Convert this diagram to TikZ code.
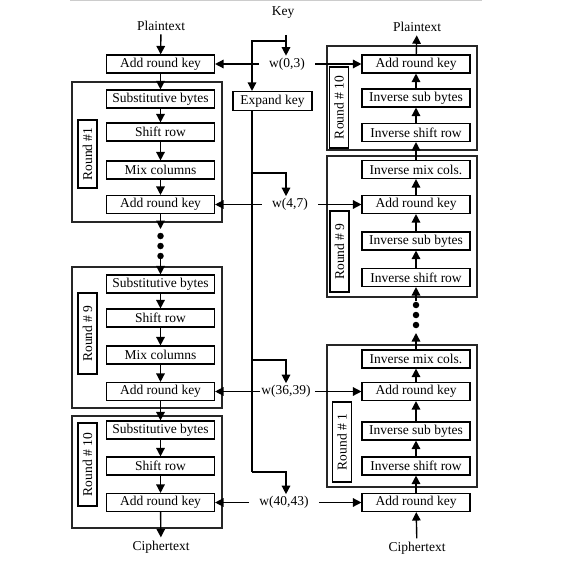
\documentclass[tikz,border=0pt]{standalone}
\usepackage{fontspec}
\setmainfont{Liberation Serif}
\usetikzlibrary{arrows.meta}

\begin{document}
\begin{tikzpicture}[
    x=1pt, y=-1pt,
    >={Triangle[length=8.5pt, width=8.5pt]},
    font=\fontsize{13.5}{15}\selectfont,
    stage/.style={rectangle, draw, line width=1.1pt, minimum width=108pt,
      minimum height=18pt, inner sep=1pt},
    roundbox/.style={draw=black!85, line width=1.1pt},
    roundtag/.style={rectangle, draw, line width=1.1pt, rotate=90,
      minimum height=19pt, minimum width=#1, inner sep=1pt},
    arr/.style={->, line width=1.4pt},
    wire/.style={line width=1.4pt},
    wlbl/.style={inner xsep=10pt, inner ysep=2pt},
    bullet/.style={circle, fill, inner sep=0pt, minimum size=6.5pt}
  ]
  \useasboundingbox (0,0) rectangle (588,564);
  \draw[black!20, line width=1pt] (70,1) -- (482,1);

  % round frames
  \draw[roundbox] (72,82) rectangle (222,222);
  \draw[roundbox] (72,267) rectangle (222,408);
  \draw[roundbox] (72,416) rectangle (222,528);
  \draw[roundbox] (327,46) rectangle (477,150);
  \draw[roundbox] (327,156) rectangle (477,297);
  \draw[roundbox] (327,345) rectangle (477,487);

  \node[roundtag=68pt] (ltag1) at (87.5,154) {Round \#1};
  \node[roundtag=81pt] (ltag9) at (87.5,333.5) {Round \# 9};
  \node[roundtag=83pt] (ltag10) at (87.5,464.5) {Round \# 10};
  \node[roundtag=81pt] (rtag10) at (339,107.5) {Round \# 10};
  \node[roundtag=81pt] (rtag9) at (339.5,251.5) {Round \# 9};
  \node[roundtag=80pt] (rtag1) at (342,442) {Round \# 1};

  % encryption
  \node (lplain) at (161,26) {Plaintext};
  \node[stage] (lark0) at (160.5,64) {Add round key};
  \node[stage] (lsb1) at (160.5,99) {Substitutive bytes};
  \node[stage] (lsr1) at (160.5,132) {Shift row};
  \node[stage] (lmc1) at (160.5,170) {Mix columns};
  \node[stage] (lark1) at (160.5,204.5) {Add round key};
  \node[stage] (lsb9) at (160.5,284) {Substitutive bytes};
  \node[stage] (lsr9) at (160.5,318) {Shift row};
  \node[stage] (lmc9) at (160.5,355) {Mix columns};
  \node[stage] (lark9) at (160.5,391.5) {Add round key};
  \node[stage] (lsb10) at (160.5,430) {Substitutive bytes};
  \node[stage] (lsr10) at (160.5,466) {Shift row};
  \node[stage] (lark10) at (160.5,502.5) {Add round key};
  \node (lcipher) at (161,547) {Ciphertext};

  % decryption
  \node (rplain) at (417,27) {Plaintext};
  \node[stage] (rark10) at (416,64) {Add round key};
  \node[stage] (risb10) at (416,98) {Inverse sub bytes};
  \node[stage] (risr10) at (416,132.5) {Inverse shift row};
  \node[stage] (rimc9) at (416,169.5) {Inverse mix cols.};
  \node[stage] (rark9) at (416,204.5) {Add round key};
  \node[stage] (risb9) at (416,241) {Inverse sub bytes};
  \node[stage] (risr9) at (416,277.5) {Inverse shift row};
  \node[stage] (rimc1) at (416,359) {Inverse mix cols.};
  \node[stage] (rark1) at (416,391.5) {Add round key};
  \node[stage] (risb1) at (416,431) {Inverse sub bytes};
  \node[stage] (risr1) at (416,466) {Inverse shift row};
  \node[stage] (rark0) at (416,502.5) {Add round key};
  \node (rcipher) at (417,548) {Ciphertext};

  % key schedule
  \node (key) at (283,13) {Key};
  \node[stage, minimum width=79pt, minimum height=19pt] (expand) at (272.5,101) {Expand key};
  \node[wlbl] (w03) at (287,64) {w(0,3)};
  \node[wlbl] (w47) at (290,204.5) {w(4,7)};
  \node[wlbl, inner xsep=1pt] (w3639) at (286,391.5) {w(36,39)};
  \node[wlbl] (w4043) at (284,502.5) {w(40,43)};

  \foreach \a/\b in {lplain/lark0, lark0/lsb1, lsb1/lsr1, lsr1/lmc1, lmc1/lark1,
      lsb9/lsr9, lsr9/lmc9, lmc9/lark9, lark9/lsb10, lsb10/lsr10, lsr10/lark10,
      lark10/lcipher}
    \draw[arr] (\a) -- (\b);
  \foreach \a/\b in {rcipher/rark0, rark0/risr1, risr1/risb1, risb1/rark1, rark1/rimc1,
      risr9/risb9, risb9/rark9, rark9/rimc9, rimc9/risr10, risr10/risb10,
      risb10/rark10, rark10/rplain}
    \draw[arr] (\a) -- (\b);

  % skipped rounds
  \coordinate (lgapA) at (160.5,229);
  \coordinate (lgapB) at (160.5,259);
  \draw[arr] (lark1) -- (lgapA);
  \foreach \y in {236,246,256} \node[bullet] at (160.5,\y) {};
  \draw[arr] (lgapB) -- (lsb9);
  \coordinate (rgapA) at (416,333);
  \coordinate (rgapB) at (416,301);
  \draw[arr] (rimc1) -- (rgapA);
  \foreach \y in {305,315,325} \node[bullet] at (416,\y) {};
  \draw[arr] (rgapB) -- (risr9);

  % key wires
  \coordinate (ktop) at (286,35);
  \coordinate (ksplit) at (286,41);
  \coordinate (ktrunk) at (252,41);
  \coordinate (tb1) at (252,173);
  \coordinate (tb2) at (252,360);
  \coordinate (tb3) at (252,472);
  \coordinate (kb1) at (286,173);
  \coordinate (kb2) at (286,360);
  \coordinate (kb3) at (286,472);
  \draw[arr] (ktop) -- (ktop |- w03.north);
  \draw[arr] (ksplit) -- (ktrunk) -- (ktrunk |- expand.north);
  \draw[wire] (ktrunk |- expand.south) -- (tb3);
  \draw[arr] (tb1) -- (kb1) -- (kb1 |- w47.north);
  \draw[arr] (tb2) -- (kb2) -- (kb2 |- w3639.north);
  \draw[arr] (tb3) -- (kb3) -- (kb3 |- w4043.north);

  \draw[arr] (w03) -- (lark0);
  \draw[arr] (w03) -- (rark10);
  \draw[arr] (w47) -- (lark1);
  \draw[arr] (w47) -- (rark9);
  \draw[arr] (w3639) -- (lark9);
  \draw[arr] ([xshift=3pt]w3639.east) -- (rark1);
  \draw[arr] (w4043) -- (lark10);
  \draw[arr] (w4043) -- (rark0);
\end{tikzpicture}
\end{document}
